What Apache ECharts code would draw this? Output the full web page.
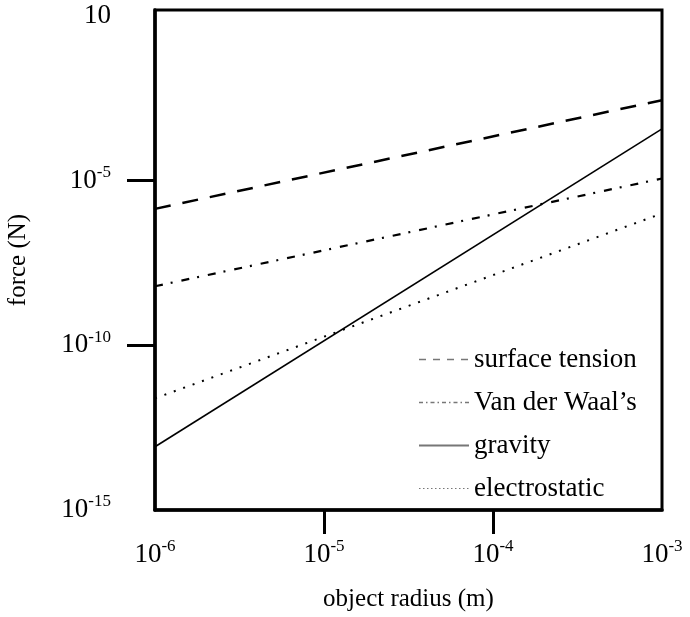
<!DOCTYPE html>
<html style="height: 100%">
<head>
  <meta charset="utf-8">
  <script type="text/javascript" src="https://cdn.jsdelivr.net/npm/echarts@6/dist/echarts.min.js"></script>
</head>
<body style="width: 100%; height: 100%; margin: 0; background: #fff">
<div id="main" style="width: 690px; height: 617px;"></div>
<script type="text/javascript">

// object radius (m) at the two ends of each line
var radius = [1e-6, 1e-3];
// force (N)
var surfaceTension = [1.38e-6, 2.75e-3];
var vanDerWaals = [6.2e-9, 1.15e-5];
var gravity = [8.3e-14, 3.7e-4];
var electrostatic = [2.45e-12, 1.0e-6];

var seriesNames = ['surface tension', 'Van der Waal\u2019s', 'gravity', 'electrostatic'];
var xLabelValues = [1e-6, 1e-5, 1e-4, 1e-3];
var xTickValues = [1e-5, 1e-4];
var yLabelValues = [1e-15, 1e-10, 1e-5, 1];
var yTickValues = [1e-10, 1e-5];

var font = 'Liberation Serif';

var pairs = function(ys) {
    return radius.map(function(r, i) { return [r, ys[i]]; });
};

// 10 with the exponent raised; the top label is just "10"
var powLabel = function(v) {
    var e = Math.round(Math.log10(v));
    if (e === 0) return '{b|10}';
    return '{b|10}{s|' + e + '}';
};
var labelRich = {
    b: { fontFamily: font, fontSize: 27, color: '#000' },
    s: { fontFamily: font, fontSize: 17, color: '#000', padding: [0, 0, 16, 0] }
};

var myChart = echarts.init(document.getElementById('main'));

var option = {
    animation: false,
    backgroundColor: '#fff',
    grid: {
        left: 155, right: 28, top: 10, bottom: 107,
        outerBoundsMode: 'none',
        containLabel: false,
        show: true, borderColor: '#000', borderWidth: 3
    },
    legend: {
        orient: 'vertical',
        left: 413, top: 341,
        itemWidth: 50, itemHeight: 14, itemGap: 16,
        itemStyle: { opacity: 0 },
        lineStyle: { color: '#777', width: 1.5 },
        textStyle: { fontFamily: font, fontSize: 27, color: '#000', lineHeight: 27 },
        data: [
            { name: seriesNames[0], lineStyle: { type: [7, 7] } },
            { name: seriesNames[1], lineStyle: { type: [4, 3, 1.5, 3] } },
            { name: seriesNames[2], lineStyle: { type: 'solid', width: 2 } },
            { name: seriesNames[3], lineStyle: { type: [1.5, 2.5], width: 1 } }
        ]
    },
    xAxis: {
        type: 'log',
        min: 1e-6, max: 1e-3,
        name: 'object radius (m)',
        nameLocation: 'middle',
        nameGap: 77,
        nameMoveOverlap: false,
        nameTextStyle: { fontFamily: font, fontSize: 25, color: '#000' },
        axisLine: { lineStyle: { color: '#000', width: 3.5 } },
        axisTick: { customValues: xTickValues, length: 24, lineStyle: { color: '#000', width: 3 } },
        axisLabel: { customValues: xLabelValues, formatter: powLabel, rich: labelRich, margin: 28, showMinLabel: true, showMaxLabel: true },
        splitLine: { show: false }
    },
    yAxis: {
        type: 'log',
        min: 1e-15, max: 1.5,
        name: 'force (N)',
        nameLocation: 'middle',
        nameGap: 124,
        nameMoveOverlap: false,
        nameTextStyle: { fontFamily: font, fontSize: 25, color: '#000' },
        axisLine: { lineStyle: { color: '#000', width: 3.5 } },
        axisTick: { customValues: yTickValues, length: 28, lineStyle: { color: '#000', width: 3 } },
        axisLabel: { customValues: yLabelValues, formatter: powLabel, rich: labelRich, margin: 44, showMinLabel: true, showMaxLabel: true },
        splitLine: { show: false }
    },
    series: [
        {
            name: seriesNames[0], type: 'line', symbol: 'none',
            data: pairs(surfaceTension),
            lineStyle: { color: '#000', width: 2.5, type: [16, 12] }
        },
        {
            name: seriesNames[1], type: 'line', symbol: 'none',
            data: pairs(vanDerWaals),
            lineStyle: { color: '#000', width: 2.2, type: [8, 8, 2, 9] }
        },
        {
            name: seriesNames[2], type: 'line', symbol: 'none',
            data: pairs(gravity),
            lineStyle: { color: '#000', width: 1.6 }
        },
        {
            name: seriesNames[3], type: 'line', symbol: 'none',
            data: pairs(electrostatic),
            lineStyle: { color: '#000', width: 2, type: [2, 8] }
        }
    ]
};

myChart.setOption(option);

</script>
</body>
</html>
